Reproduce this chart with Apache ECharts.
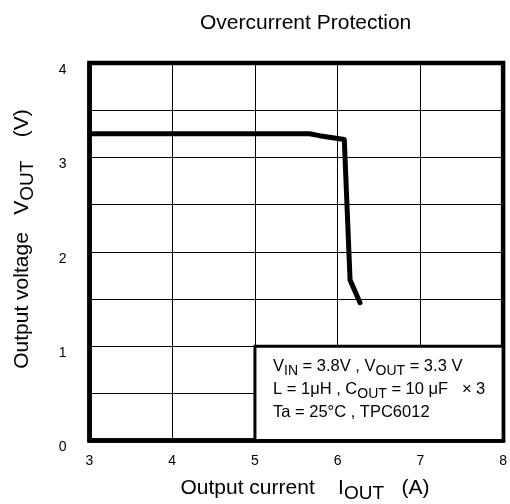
<!DOCTYPE html>
<html>
<head>
<meta charset="utf-8">
<script src="https://cdn.jsdelivr.net/npm/echarts@6/dist/echarts.min.js"></script>
<style>
  html, body { margin: 0; padding: 0; background: #fff; }
  #chart { width: 510px; height: 504px; }
</style>
</head>
<body>
<div id="chart"></div>
<script>
// output current (A) vs output voltage (V)
const currentA = [3.0, 5.66, 5.78, 6.08, 6.15, 6.27];
const voltageV = [3.25, 3.25, 3.23, 3.19, 1.70, 1.46];
// condition box spans these data ranges
const boxX = [5, 8];
const boxY = [0, 1];

const font = 'Liberation Sans, Arial, sans-serif';
const chart = echarts.init(document.getElementById('chart'));

// rich styles: m = normal text, s = lowered subscript
const main = { fontSize: 21, lineHeight: 30, verticalAlign: 'middle', fontFamily: font, color: '#000' };
const sub = { fontSize: 19, lineHeight: 20, verticalAlign: 'bottom', fontFamily: font, color: '#000' };
const bmain = { fontSize: 16.5, lineHeight: 23, verticalAlign: 'middle', fontFamily: font, color: '#000' };
const bsub = { fontSize: 14, lineHeight: 15, verticalAlign: 'bottom', fontFamily: font, color: '#000' };

const option = {
  backgroundColor: '#fff',
  animation: false,
  title: {
    text: 'Overcurrent Protection',
    left: 195,
    top: 8,
    textStyle: { fontSize: 21, fontWeight: 'normal', color: '#000', fontFamily: font }
  },
  grid: {
    left: 89.5, right: 2, top: 63, bottom: 63.5,
    show: true, borderColor: '#000', borderWidth: 4.5, backgroundColor: 'transparent'
  },
  xAxis: {
    type: 'value', min: 3, max: 8, interval: 1,
    axisLine: { show: true, lineStyle: { color: '#000', width: 4.5 } },
    axisTick: { show: false },
    axisLabel: { color: '#000', fontSize: 14, fontFamily: font, margin: 14 },
    splitLine: { show: true, lineStyle: { color: '#000', width: 1 } }
  },
  yAxis: {
    type: 'value', min: 0, max: 4, interval: 0.5,
    axisLine: { show: true, lineStyle: { color: '#000', width: 4.5 } },
    axisTick: { show: false },
    axisLabel: {
      color: '#000', fontSize: 14, fontFamily: font, margin: 23,
      verticalAlign: 'top',
      formatter: v => (Number.isInteger(v) ? String(v) : '')
    },
    splitLine: { show: true, lineStyle: { color: '#000', width: 1 } }
  },
  series: [
    {
      type: 'line',
      data: currentA.map((x, i) => [x, voltageV[i]]),
      symbol: 'none',
      lineStyle: { color: '#000', width: 5, join: 'round', cap: 'round' },
      z: 3,
      markArea: {
        silent: true,
        itemStyle: { color: '#fff', borderColor: '#000', borderWidth: 3 },
        data: [[{ coord: [boxX[0], boxY[0]] }, { coord: [boxX[1], boxY[1]] }]]
      }
    }
  ],
  graphic: [
    {
      type: 'text', left: 273, top: 358, z: 10,
      style: {
        text: '{m|V}{s|IN}{m| = 3.8V , V}{s|OUT}{m| = 3.3 V}\n' +
              '{m|L = 1μH , C}{s|OUT}{m| = 10 μF   × 3}\n' +
              '{m|Ta = 25°C , TPC6012}',
        rich: { s: bsub, m: bmain }
      }
    },
    {
      type: 'text', x: 305, y: 488,
      style: {
        text: '{m|Output current    I}{s|OUT}{m|   (A)}',
        align: 'center', verticalAlign: 'middle',
        rich: { m: main, s: sub }
      }
    },
    {
      type: 'text', x: 22, y: 239, rotation: Math.PI / 2,
      style: {
        text: '{m|Output voltage   V}{s|OUT}{m|    (V)}',
        align: 'center', verticalAlign: 'middle',
        rich: { m: main, s: sub }
      }
    }
  ]
};

chart.setOption(option);
</script>
</body>
</html>
